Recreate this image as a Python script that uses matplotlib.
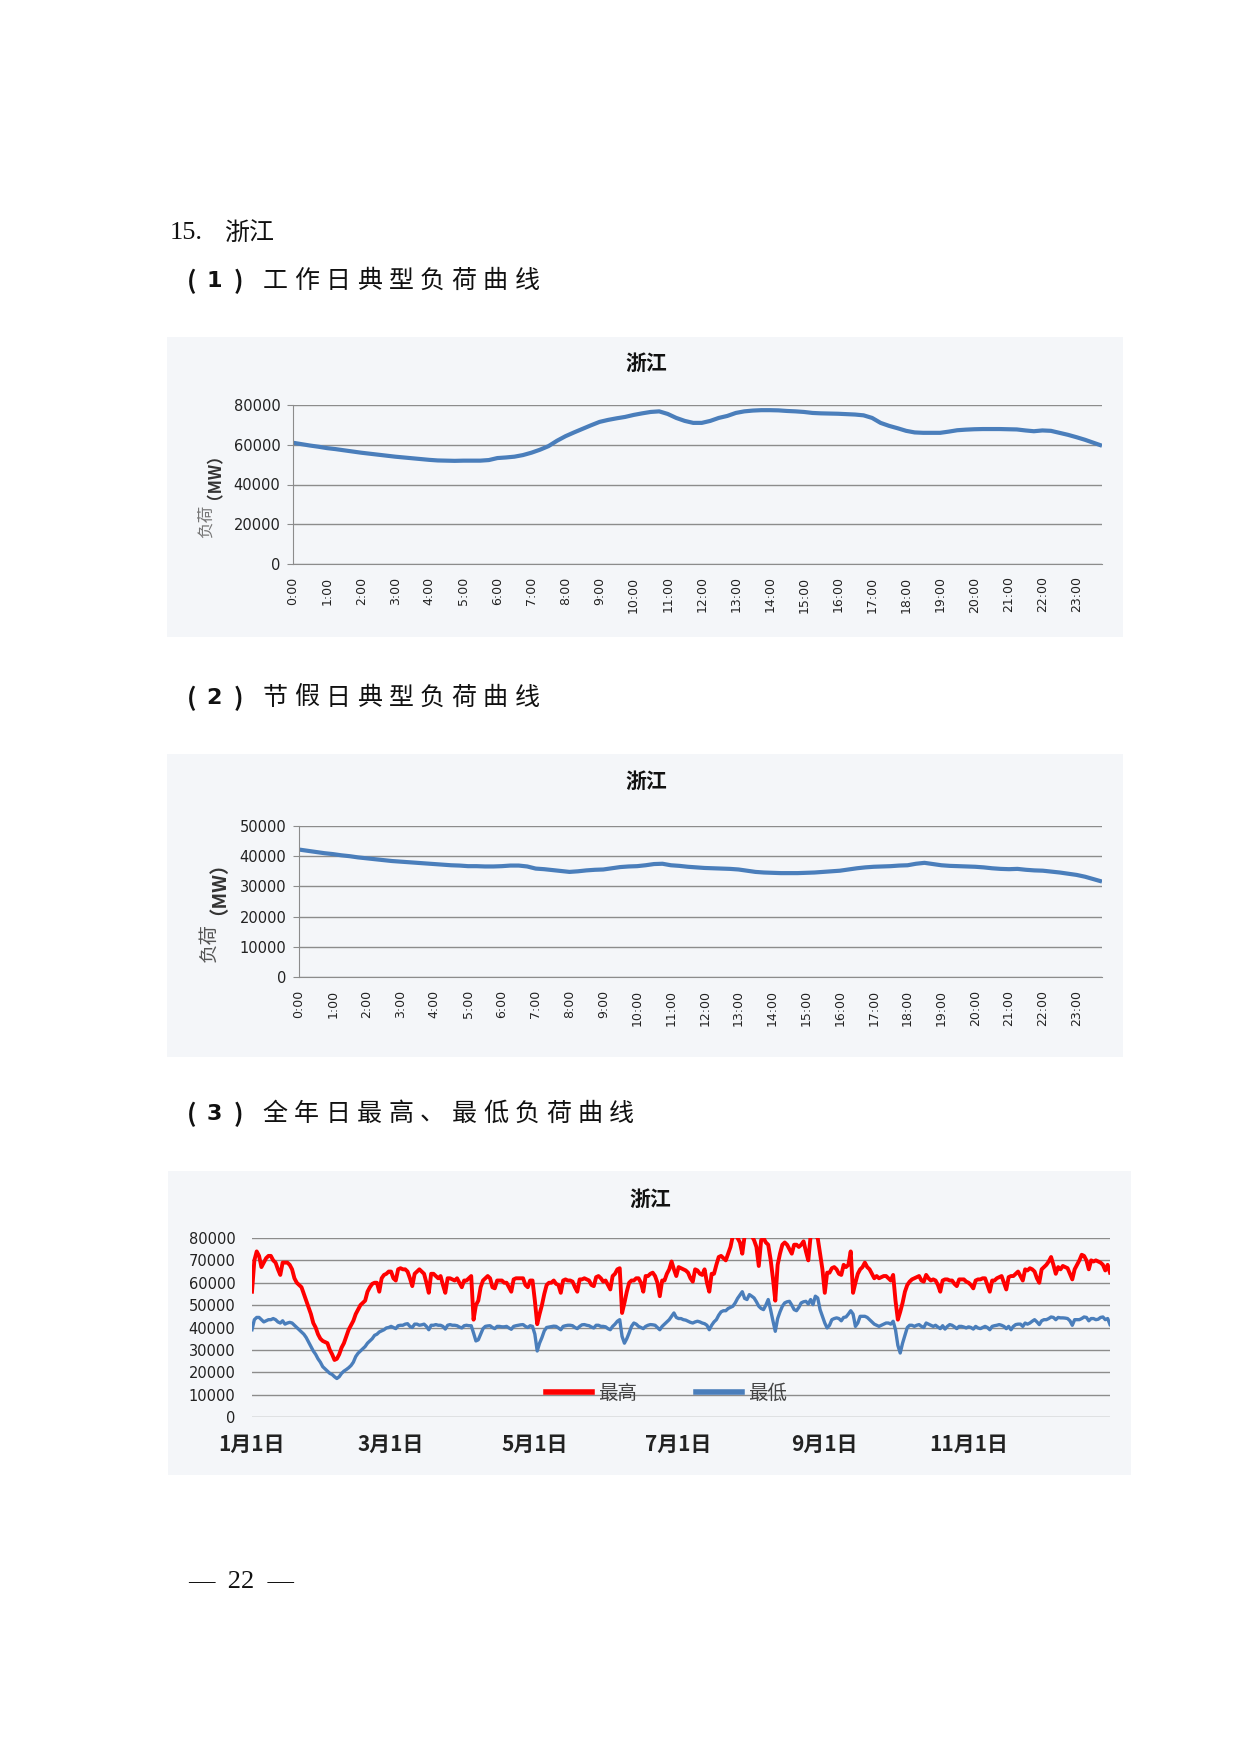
"""Zhejiang typical load curves, page 22."""

import matplotlib
matplotlib.use("Agg")
import matplotlib.pyplot as plt
from matplotlib.patches import Rectangle

plt.rcParams["font.family"] = ["Noto Sans CJK SC", "DejaVu Sans"]

# --- data -------------------------------------------------------------
hours = [f"{h}:00" for h in range(24)]

# workday typical curve, 15-min points, thousand MW
workday_k = [
    61.0, 60.3, 59.6, 59.0, 58.3, 57.8, 57.2, 56.6,
    56.0, 55.5, 55.0, 54.5, 54.0, 53.6, 53.2, 52.8,
    52.4, 52.1, 52.0, 51.9, 52.0, 52.0, 52.0, 52.3,
    53.3, 53.6, 54.0, 54.8, 56.0, 57.5, 59.3, 62.0,
    64.3, 66.2, 68.0, 69.8, 71.5, 72.5, 73.3, 74.0,
    75.0, 75.8, 76.5, 76.8, 75.5, 73.5, 72.0, 71.0,
    71.0, 72.0, 73.5, 74.5, 76.0, 76.8, 77.2, 77.4,
    77.4, 77.3, 77.0, 76.8, 76.5, 76.0, 75.8, 75.7,
    75.6, 75.4, 75.2, 74.8, 73.5, 71.0, 69.5, 68.3,
    67.0, 66.2, 66.0, 66.0, 66.0, 66.6, 67.3, 67.6,
    67.8, 67.9, 67.9, 67.9, 67.8, 67.7, 67.2, 66.8,
    67.2, 67.0, 66.0, 65.0, 63.8, 62.5, 61.0, 59.5,
]

# holiday typical curve, 15-min points, thousand MW
holiday_k = [
    42.2, 41.8, 41.4, 41.0, 40.7, 40.3, 40.0, 39.6,
    39.3, 39.0, 38.7, 38.4, 38.2, 38.0, 37.8, 37.6,
    37.4, 37.2, 37.0, 36.9, 36.7, 36.7, 36.6, 36.6,
    36.7, 36.9, 36.9, 36.6, 35.9, 35.7, 35.4, 35.1,
    34.8, 35.0, 35.3, 35.5, 35.6, 36.0, 36.4, 36.6,
    36.7, 37.0, 37.4, 37.5, 37.0, 36.8, 36.5, 36.3,
    36.1, 36.0, 35.9, 35.8, 35.6, 35.2, 34.8, 34.6,
    34.5, 34.4, 34.4, 34.4, 34.5, 34.6, 34.8, 35.0,
    35.2, 35.6, 36.0, 36.3, 36.5, 36.6, 36.7, 36.9,
    37.0, 37.5, 37.8, 37.4, 37.0, 36.8, 36.7, 36.6,
    36.5, 36.3, 36.0, 35.8, 35.7, 35.8, 35.5, 35.3,
    35.2, 34.9, 34.6, 34.2, 33.8, 33.2, 32.4, 31.6,
]

# daily max / min load for the year, thousand MW, one week per line (from Jan 1)
daily_max_k = [
    56, 70, 74, 72, 67, 69, 71,
    72, 72, 70, 69, 66, 63.5, 69,
    69, 69, 68, 66, 62, 60, 59,
    58, 55, 52, 49, 46, 42, 40,
    37, 35, 34, 33.5, 33, 30, 28,
    25.5, 26, 28, 31, 33, 36, 39,
    41, 43, 46, 48, 50, 51, 52,
    56, 58, 59.5, 60, 60, 56, 62,
    63.5, 64, 65, 65, 62, 61, 66,
    66.5, 66, 66, 65, 62, 58.5, 64,
    65, 66, 65, 64, 60, 55.5, 64,
    64, 63, 62, 63, 59, 55.5, 62,
    62, 61.5, 61, 62, 60, 58, 61,
    61, 62, 63, 43.5, 50, 52, 58,
    61, 62, 63, 62, 58, 57.5, 61,
    61, 61, 60, 60, 58, 56, 61.5,
    62, 62, 62, 62, 59, 58, 61,
    61, 52, 41.5, 46, 50, 55, 59,
    60, 60, 61, 59.5, 59, 55.5, 61,
    61.5, 61, 61, 60.5, 58, 56, 61.5,
    61.5, 62, 61.5, 61, 59, 58.5, 62.5,
    63, 62, 60.5, 61, 59, 57, 63,
    64, 66, 66.5, 46.5, 51, 56, 60,
    61, 61, 62, 62, 60, 56, 63,
    63, 64, 64.5, 63, 60, 54, 61,
    61, 64, 66, 69.5, 66, 63, 67,
    66.5, 66, 65.5, 64.5, 62, 60.5, 66,
    65.5, 64, 63.5, 66, 60, 56, 64,
    64, 68, 71.5, 72, 71, 70, 73,
    76, 81, 82, 80, 78, 73, 81,
    82, 83, 81, 79, 76, 67.5, 79,
    80, 78, 77, 70.5, 62, 52, 68,
    73, 77, 78, 77, 75, 73, 77,
    77, 76, 77, 78.5, 74, 70, 81,
    82, 81, 80, 73, 66, 55.5, 64.5,
    64.5, 66.5, 67, 66, 64, 63.5, 68,
    67, 68, 74, 55.5, 60, 64, 66,
    67, 69, 67, 66, 64, 62, 63,
    62, 62.5, 63, 63, 62, 61, 63.5,
    52, 43.5, 47, 51, 56, 59, 60.5,
    61.5, 62, 62.5, 63, 61, 60.5, 63.5,
    62, 61, 61.5, 61, 59, 56, 61,
    61.5, 61.5, 61, 61, 59.5, 58.5, 61.5,
    61.5, 61.5, 60.5, 60, 59, 57.5, 61,
    61.5, 61.5, 62, 62, 59, 56, 61,
    61, 62, 62.5, 63, 60, 57, 62.5,
    63, 63, 64, 65, 63, 61, 66,
    65.5, 66.5, 66, 65, 62, 60, 66,
    67, 68, 69.5, 71.5, 68, 64, 67,
    66, 67.5, 67, 66.5, 64, 61.5, 66,
    68, 70, 72.5, 72, 70, 66, 70,
    69.5, 70, 69.5, 69, 68, 65.5, 68,
    64.5,
]

daily_min_k = [
    39, 43.5, 44.5, 44.5, 43.5, 42.5, 43,
    43.5, 43.5, 44, 43.5, 42.5, 42, 43,
    41.5, 42, 42.3, 42, 41, 40, 39,
    38, 37, 35.5, 33.5, 31.5, 29.5, 28,
    26, 24.5, 22.5, 21.5, 20.5, 19.5, 19,
    18, 17.2, 18, 19.5, 20.5, 21.2, 22,
    23, 24.5, 27, 28.5, 29.5, 30.5, 31.5,
    33, 34, 35, 36.5, 37, 38, 38.5,
    39, 39.8, 40, 40.5, 40, 39.5, 40.8,
    41, 41, 41.5, 41.7, 40.5, 40, 41.5,
    41.5, 41, 41.2, 41.5, 40.5, 39, 41,
    41, 41.3, 41, 41, 40.5, 39.3, 41,
    41.3, 41, 41, 40.8, 40.2, 39.8, 40.8,
    41, 40.8, 40.8, 37.5, 34, 34.5, 37,
    39.5, 40.5, 40.7, 40.8, 40, 39.5, 40.5,
    40.5, 40.3, 40.3, 40.5, 39.8, 39.2, 40.5,
    40.8, 41, 41.2, 41.3, 40.5, 40, 40.8,
    40.5, 37, 29.5, 33, 35.5, 38.5, 40,
    40.2, 40.4, 40.6, 40.5, 39.8, 39, 40.5,
    40.8, 41, 41, 40.8, 40, 39.5, 40.5,
    41.2, 41.3, 41, 40.8, 40.2, 39.8, 41,
    41, 40.5, 40.5, 40.3, 39.5, 39, 40.5,
    41.5, 42.8, 43.5, 36, 33, 35, 37.6,
    40.5, 42, 41.5, 40.5, 40, 39.5, 40.5,
    41, 41.3, 41.2, 41, 40, 39, 40.5,
    41.5, 42.5, 43.5, 45, 46.5, 44.5, 44,
    44, 43.5, 43.3, 42.8, 42.3, 42, 42.5,
    42.8, 42.5, 42, 41.7, 41, 39, 41,
    42.5, 43.5, 45.5, 47, 47.5, 47.5, 48.5,
    49, 49.5, 51, 53, 54.5, 56, 53,
    52.5, 54.7, 54, 53.2, 51.5, 49.5, 48.5,
    48, 50, 52.5, 48, 43, 38.3, 44,
    47, 49.5, 51, 51.5, 51.7, 50, 48,
    47.5, 49, 51, 51.5, 51.7, 50.5, 52.5,
    50.2, 54, 53.2, 48, 45, 42, 39.8,
    41, 43.5, 44, 44.3, 44, 43, 44.5,
    44.7, 46, 47.5, 46, 40.5, 42, 45,
    45, 45, 44.5, 43.5, 42.5, 41.5, 41,
    40.5, 41, 41.5, 42, 42, 41.5, 42.8,
    39, 32, 28.6, 33, 36.5, 40, 41,
    41, 40.5, 41, 41.3, 40.5, 40, 42,
    41.5, 41, 40.5, 41, 40.2, 39.5, 40.8,
    39.3, 40.5, 41.3, 41, 40.3, 39.5, 40.5,
    40.5, 40.2, 39.8, 40.3, 40, 39.3, 40.5,
    39.8, 39.5, 40, 40.5, 40, 39, 40.5,
    40.8, 41, 41.3, 41, 40.5, 39.5, 40.5,
    39, 40.5, 41.3, 41.5, 41.5, 40.5, 42,
    41.5, 42, 42.8, 43.5, 42.5, 41.3, 43,
    43.5, 43.5, 44, 44.7, 44.5, 43.5, 44.5,
    44.3, 44.3, 44.2, 44, 43, 41, 43.5,
    43.5, 43.5, 44, 44.7, 44.5, 43, 44,
    44, 43.5, 43.7, 44.5, 44.7, 43.5, 44,
    41.3,
]

month_ticks = [0, 59, 120, 181, 243, 304]
month_labels = ["1月1日", "3月1日", "5月1日", "7月1日", "9月1日", "11月1日"]

# --- style ------------------------------------------------------------
W, H = 1240, 1754
PANEL = "#F4F6F9"
GRID = "#8C8C8C"
BLUE = "#4A7EBB"
RED = "#FF0000"

fig = plt.figure(figsize=(W / 100, H / 100), dpi=100)
fig.patch.set_facecolor("white")


def box(x0, y0, x1, y1):
    return [x0 / W, 1 - y1 / H, (x1 - x0) / W, (y1 - y0) / H]


def ftext(x, y, s, **kw):
    return fig.text(x / W, 1 - y / H, s, **kw)


def spaced(x, y, s, step, **kw):
    for i, ch in enumerate(s):
        ftext(x + i * step, y, ch, ha="center", va="center", **kw)


def heading(y, num, title):
    kw = dict(fontsize=18, color="#111")
    ftext(192, y, "(", ha="center", va="center", fontweight="bold", **kw)
    ftext(214, y, num, ha="center", va="center", fontweight="bold",
          family="DejaVu Sans", fontsize=16, color="#111")
    ftext(238, y, ")", ha="center", va="center", fontweight="bold", **kw)
    spaced(275, y, title, 31.5, **kw)


# page headings
ftext(170, 233, "15.", ha="left", va="center", family="Liberation Serif",
      fontsize=19, color="#111")
ftext(224, 233, "浙江", ha="left", va="center", fontsize=18, color="#111")
heading(281, "1", "工作日典型负荷曲线")
heading(698, "2", "节假日典型负荷曲线")
heading(1114, "3", "全年日最高、最低负荷曲线")
ftext(241, 1582, "—  22  —", ha="center", va="center",
      family="Liberation Serif", fontsize=19, color="#111")

# chart panels
for x0, y0, x1, y1 in [(167, 337, 1123, 637), (167, 754, 1123, 1057),
                       (168, 1171, 1131, 1475)]:
    fig.add_artist(Rectangle((x0 / W, 1 - y1 / H), (x1 - x0) / W, (y1 - y0) / H,
                             transform=fig.transFigure, fc=PANEL, ec="none",
                             zorder=0))


def day_chart(rect, values, ymax, ystep, title_y, ylab_x, ylab_ys, ylab_size,
              ylab_color):
    ax = fig.add_axes(box(*rect))
    ax.set_facecolor("none")
    x = range(len(values))
    ax.plot(x, [v * 1000 for v in values], color=BLUE, lw=3.0,
            solid_capstyle="butt")
    ax.set_xlim(0, len(values) - 1)
    ax.set_ylim(0, ymax)
    ax.set_yticks(range(0, ymax + 1, ystep))
    ax.set_xticks(range(0, len(values), 4))
    ax.set_xticklabels(hours, rotation=90, fontsize=9, family="DejaVu Sans",
                       color="#222")
    ax.yaxis.grid(True, color=GRID, lw=1)
    ax.set_axisbelow(True)
    for s in ["top", "right"]:
        ax.spines[s].set_visible(False)
    for s in ["left", "bottom"]:
        ax.spines[s].set_color(GRID)
    ax.tick_params(axis="x", length=0, pad=9)
    ax.tick_params(axis="y", length=4, color=GRID, pad=5, labelsize=10.5,
                   labelcolor="#222")
    for lab in ax.get_yticklabels():
        lab.set_family("DejaVu Sans")
    ftext(646, title_y, "浙江", ha="center", va="center", fontsize=15,
          fontweight="bold", color="#111")
    ftext(ylab_x, ylab_ys[0], "负荷", rotation=90, ha="center", va="center",
          fontsize=ylab_size, color=ylab_color)
    ftext(ylab_x, ylab_ys[1], "（MW）", rotation=90, ha="center", va="center",
          fontsize=ylab_size, fontweight="bold", color="#333")
    return ax


day_chart((293, 405, 1102, 564), workday_k, 80000, 20000, 363, 206, (521, 468),
          12, "#777")
day_chart((299, 826, 1102, 977), holiday_k, 50000, 10000, 782, 209, (943, 878),
          14, "#555")

# year chart
ax3 = fig.add_axes(box(252, 1238, 1110, 1417))
ax3.set_facecolor("none")
days = range(len(daily_max_k))
ax3.plot(days, [v * 1000 for v in daily_max_k], color=RED, lw=2.8, label="最高")
ax3.plot(days, [v * 1000 for v in daily_min_k], color=BLUE, lw=2.4, label="最低")
ax3.set_xlim(0, len(daily_max_k) - 1)
ax3.set_ylim(0, 80000)
ax3.set_yticks(range(0, 80001, 10000))
ax3.set_xticks(month_ticks)
ax3.set_xticklabels(month_labels, fontsize=15, fontweight="bold", color="#222")
ax3.yaxis.grid(True, color=GRID, lw=1)
ax3.set_axisbelow(True)
for s in ax3.spines.values():
    s.set_visible(False)
ax3.tick_params(axis="x", length=0, pad=12)
ax3.tick_params(axis="y", length=0, pad=12, labelsize=10.5, labelcolor="#222")
for lab in ax3.get_yticklabels():
    lab.set_family("DejaVu Sans")
ax3.legend(loc="center", bbox_to_anchor=(0.483, 0.134), ncol=2, frameon=False,
           fontsize=14, handlelength=2.4, handletextpad=0.3, columnspacing=3.0,
           labelcolor="#444")
for line in ax3.get_legend().get_lines():
    line.set_linewidth(4)
ftext(650, 1200, "浙江", ha="center", va="center", fontsize=15,
      fontweight="bold", color="#111")

fig.savefig("out.png", dpi=100, facecolor="white")
